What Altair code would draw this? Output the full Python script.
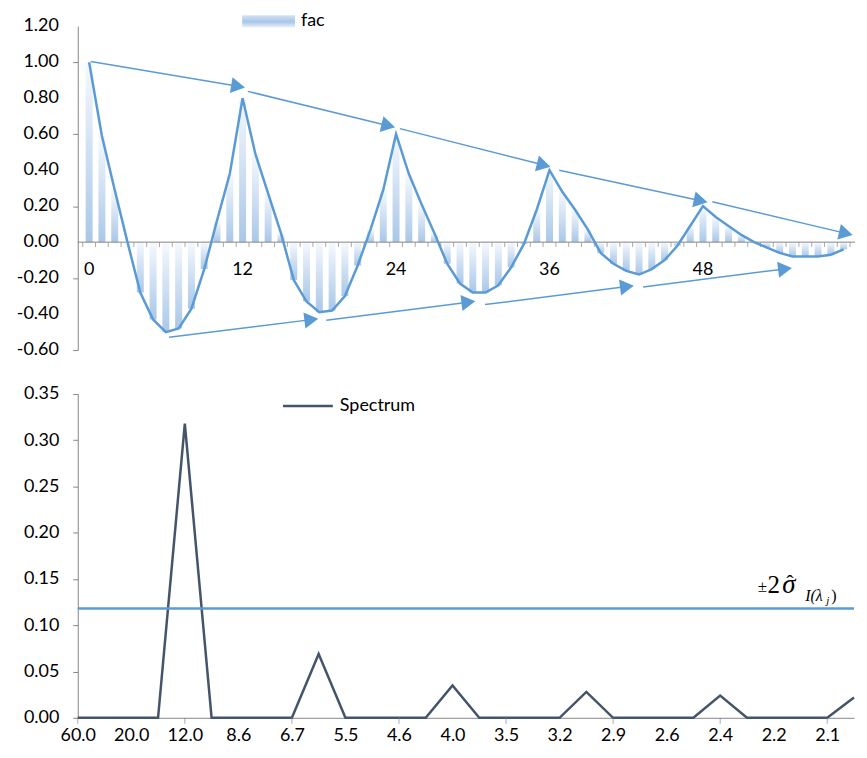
import math
import altair as alt
import pandas as pd

FONT = "Lato"
FS = 18
AXIS_GRAY = "#868686"
BLUE = "#5B9BD5"
SLATE = "#44546A"

# ---------------- data: autocorrelation (fac) ----------------
lags = list(range(60))
fac = [1.00, 0.59, 0.29, 0.00, -0.28, -0.43, -0.50, -0.48, -0.37, -0.15, 0.12, 0.38,
       0.80, 0.49, 0.27, 0.05, -0.21, -0.33, -0.39, -0.38, -0.30, -0.13, 0.07, 0.29,
       0.60, 0.38, 0.21, 0.05, -0.12, -0.23, -0.28, -0.28, -0.24, -0.14, -0.01, 0.18,
       0.40, 0.28, 0.18, 0.07, -0.06, -0.12, -0.16, -0.18, -0.15, -0.10, -0.02, 0.09,
       0.20, 0.14, 0.09, 0.04, 0.00, -0.03, -0.06, -0.08, -0.08, -0.08, -0.07, -0.04]
lag_labels = [0, 12, 24, 36, 48]
fac_y_ticks = [-0.6, -0.4, -0.2, 0.0, 0.2, 0.4, 0.6, 0.8, 1.0, 1.2]
fac_y_labels = ["-0.60", "-0.40", "-0.20", "0.00", "0.20", "0.40", "0.60", "0.80", "1.00", "1.20"]

# envelope arrows (lag, value) of start and tip
upper_start_lag = [0.13, 12.41, 24.30, 36.76, 48.73]
upper_start_val = [1.004, 0.838, 0.631, 0.400, 0.225]
upper_tip_lag = [12.18, 23.92, 36.07, 48.35, 59.70]
upper_tip_val = [0.860, 0.638, 0.419, 0.222, 0.040]
lower_start_lag = [6.25, 18.55, 30.96, 43.32]
lower_start_val = [-0.528, -0.434, -0.347, -0.249]
lower_tip_lag = [17.91, 30.19, 42.59, 54.95]
lower_tip_val = [-0.426, -0.329, -0.242, -0.144]

# ---------------- data: spectrum ----------------
k_index = list(range(1, 31))
period_labels = ["60.0", "30.0", "20.0", "15.0", "12.0", "10.0", "8.6", "7.5", "6.7", "6.0",
                 "5.5", "5.0", "4.6", "4.3", "4.0", "3.8", "3.5", "3.3", "3.2", "3.0",
                 "2.9", "2.7", "2.6", "2.5", "2.4", "2.3", "2.2", "2.1", "2.1", "2.0"]
spectrum = [0, 0, 0, 0, 0.318, 0, 0, 0, 0, 0.069,
            0, 0, 0, 0, 0.035, 0, 0, 0, 0, 0.028,
            0, 0, 0, 0, 0.024, 0, 0, 0, 0, 0.022]
spec_y_ticks = [0.0, 0.05, 0.10, 0.15, 0.20, 0.25, 0.30, 0.35]
label_k = [1, 3, 5, 7, 9, 11, 13, 15, 17, 19, 21, 23, 25, 27, 29]
tick_k = [1, 5, 9, 13, 17, 21, 25, 29]
threshold = [0.118]

W1, H1 = 780, 325
W2, H2 = 779, 325

minus_fix = "replace(format(datum.value, '.2f'), '\u2212', '-')"


def yaxis(values, labels=True):
    return alt.Axis(values=values, labelExpr=minus_fix, grid=False, title=None, labels=labels,
                    tickSize=5, labelPadding=14, domainColor=AXIS_GRAY, tickColor=AXIS_GRAY,
                    labelFont=FONT, labelFontSize=FS, labelColor="black", labelFlush=False,
                    labelOverlap=False)


# ---------------- top panel ----------------
xs1 = alt.Scale(domain=[-0.5, 59.5], nice=False, zero=False)
ys1 = alt.Scale(domain=[-0.6, 1.2], nice=False)
Y1AX = yaxis(fac_y_ticks, labels=False)

df_fac = pd.DataFrame({"lag": lags, "fac": fac})

bar_grad = alt.Gradient(gradient="linear",
                        stops=[alt.GradientStop(color="#f6f9fd", offset=0),
                               alt.GradientStop(color="#a9c7e8", offset=1)],
                        x1=0, x2=0, y1=0, y2=1)
legend_grad = alt.Gradient(gradient="linear",
                           stops=[alt.GradientStop(color="#d3e2f4", offset=0),
                                  alt.GradientStop(color="#a8c6e8", offset=0.55),
                                  alt.GradientStop(color="#e6eff9", offset=1)],
                           x1=0, x2=0, y1=0, y2=1)

bars = alt.Chart(df_fac).mark_bar(size=7, fill=bar_grad, orient="vertical").encode(
    x=alt.X("lag:Q", scale=xs1, axis=None),
    y=alt.Y("fac:Q", scale=ys1, axis=Y1AX),
    y2=alt.datum(0),
)
zero_line = alt.Chart(pd.DataFrame({"z": [0.0]})).mark_rule(color=AXIS_GRAY, strokeWidth=1).encode(
    y=alt.Y("z:Q", scale=ys1, axis=Y1AX)
)
df_ticks1 = pd.DataFrame({"t": [i - 0.5 for i in range(61)]})
ticks1 = alt.Chart(df_ticks1).mark_tick(orient="vertical", size=5, thickness=1,
                                         color=AXIS_GRAY, yOffset=2.5).encode(
    x=alt.X("t:Q", scale=xs1, axis=None),
    y=alt.datum(0),
)
fac_line = alt.Chart(df_fac).mark_line(color=BLUE, strokeWidth=2.5).encode(
    x=alt.X("lag:Q", scale=xs1, axis=None),
    y=alt.Y("fac:Q", scale=ys1, axis=Y1AX),
)
df_lbl = pd.DataFrame({"lag": lag_labels, "lbl": [str(v) for v in lag_labels]})
lag_text = alt.Chart(df_lbl).mark_text(font=FONT, fontSize=FS, dy=28, baseline="middle",
                                        color="black").encode(
    x=alt.X("lag:Q", scale=xs1, axis=None),
    y=alt.datum(0),
    text="lbl:N",
)
df_ylab = pd.DataFrame({"v": fac_y_ticks, "lbl": fac_y_labels})
ylab_text = alt.Chart(df_ylab).mark_text(font=FONT, fontSize=FS, align="right", baseline="middle",
                                          color="black").encode(
    x=alt.value(-19),
    y=alt.Y("v:Q", scale=ys1, axis=Y1AX),
    text="lbl:N",
)

px_lag = W1 / 60.0
px_val = H1 / 1.8


def arrow_rows(sl, sv, tl, tv):
    rows = []
    for a, b, c, d in zip(sl, sv, tl, tv):
        dx = (c - a) * px_lag
        dy = -(d - b) * px_val
        L = math.hypot(dx, dy)
        ux, uy = dx / L, dy / L
        ang = math.degrees(math.atan2(dy, dx)) % 360
        back = 7.0
        rows.append(dict(x0=a, y0=b, hx=c - back * ux / px_lag, hy=d + back * uy / px_val, ang=ang))
    return rows


df_arr = pd.DataFrame(arrow_rows(upper_start_lag, upper_start_val, upper_tip_lag, upper_tip_val)
                      + arrow_rows(lower_start_lag, lower_start_val, lower_tip_lag, lower_tip_val))
arrow_lines = alt.Chart(df_arr).mark_rule(color=BLUE, strokeWidth=1.5).encode(
    x=alt.X("x0:Q", scale=xs1, axis=None),
    y=alt.Y("y0:Q", scale=ys1, axis=Y1AX),
    x2="hx:Q",
    y2="hy:Q",
)
arrow_heads = alt.Chart(df_arr).mark_point(shape="triangle-right", filled=True, size=260,
                                            color=BLUE, opacity=1, strokeWidth=0).encode(
    x=alt.X("hx:Q", scale=xs1, axis=None),
    y=alt.Y("hy:Q", scale=ys1, axis=Y1AX),
    angle=alt.Angle("ang:Q", scale=None),
)
one = pd.DataFrame({"a": [0]})
leg1_box = alt.Chart(one).mark_rect(fill=legend_grad).encode(
    x=alt.value(165), x2=alt.value(218), y=alt.value(-11), y2=alt.value(1)
)
leg1_txt = alt.Chart(one).mark_text(font=FONT, fontSize=FS, align="left", baseline="middle",
                                    color="black").encode(
    x=alt.value(224), y=alt.value(-5), text=alt.value("fac")
)

top = alt.layer(bars, zero_line, ticks1, fac_line, lag_text, ylab_text, arrow_lines, arrow_heads,
                leg1_box, leg1_txt).properties(width=W1, height=H1)

# ---------------- bottom panel ----------------
xs2 = alt.Scale(domain=[1, 30], nice=False, zero=False)
ys2 = alt.Scale(domain=[0, 0.35], nice=False)
labels_js = "[" + ",".join("'" + s + "'" for s in period_labels) + "]"
X2AX = alt.Axis(values=label_k, labelExpr=labels_js + "[datum.value - 1]", ticks=False,
                grid=False, title=None, labelPadding=9, domainColor=AXIS_GRAY,
                labelFont=FONT, labelFontSize=FS, labelColor="black",
                labelFlush=False, labelOverlap=False)
Y2AX = yaxis(spec_y_ticks)

df_spec = pd.DataFrame({"k": k_index, "s": spectrum})
spec_line = alt.Chart(df_spec).mark_line(color=SLATE, strokeWidth=2.5).encode(
    x=alt.X("k:Q", scale=xs2, axis=X2AX),
    y=alt.Y("s:Q", scale=ys2, axis=Y2AX),
)
thr_line = alt.Chart(pd.DataFrame({"t": threshold})).mark_rule(color=BLUE, strokeWidth=2.5).encode(
    y=alt.Y("t:Q", scale=ys2, axis=Y2AX)
)
ticks2 = alt.Chart(pd.DataFrame({"k": tick_k})).mark_tick(orient="vertical", size=6, thickness=1,
                                                          color=AXIS_GRAY, yOffset=3).encode(
    x=alt.X("k:Q", scale=xs2, axis=X2AX),
    y=alt.datum(0),
)
leg2_line = alt.Chart(one).mark_rule(color=SLATE, strokeWidth=2.5).encode(
    x=alt.value(206), x2=alt.value(256), y=alt.value(12)
)
leg2_txt = alt.Chart(one).mark_text(font=FONT, fontSize=FS, align="left", baseline="middle",
                                    color="black").encode(
    x=alt.value(263), y=alt.value(12), text=alt.value("Spectrum")
)

df_sig = pd.DataFrame({"k": [26.54], "t": threshold})
sig_base = alt.Chart(df_sig)
serif = "Liberation Serif"
SX = alt.X("k:Q", scale=xs2, axis=X2AX)
SY = alt.Y("t:Q", scale=ys2, axis=Y2AX)


def sig_text(txt, size, dx, dy, italic=False, align="left", baseline="alphabetic"):
    kw = dict(font=serif, fontSize=size, align=align, baseline=baseline, dx=dx, dy=dy,
              color="black")
    if italic:
        kw["fontStyle"] = "italic"
    return sig_base.mark_text(**kw).encode(x=SX, y=SY, text=alt.value(txt))


sig_pm = sig_text("\u00b1", 17, 1, -22, align="center", baseline="middle")
sig_two = sig_text("2", 25, 6, -16)
sig_sigma = sig_text("\u03c3", 27, 21, -16, italic=True)
sig_hat = sig_text("\u02c6", 22, 25, -19)
sig_sub = sig_text("I(\u03bb", 16, 44, -8, italic=True)
sig_j = sig_text("j", 11, 65, -5, italic=True)
sig_close = sig_text(")", 16, 70, -8)

bottom = alt.layer(spec_line, thr_line, ticks2, leg2_line, leg2_txt,
                   sig_pm, sig_two, sig_sigma, sig_hat, sig_sub, sig_j, sig_close
                   ).properties(width=W2, height=H2)

chart = alt.vconcat(top, bottom, spacing=26).properties(
    padding={"left": 8, "top": 3, "right": 0, "bottom": 0}
).configure_view(stroke=None).configure_axis(labelOverlap=False)

chart.save("out.html", embed_options={"renderer": "svg", "actions": False})
